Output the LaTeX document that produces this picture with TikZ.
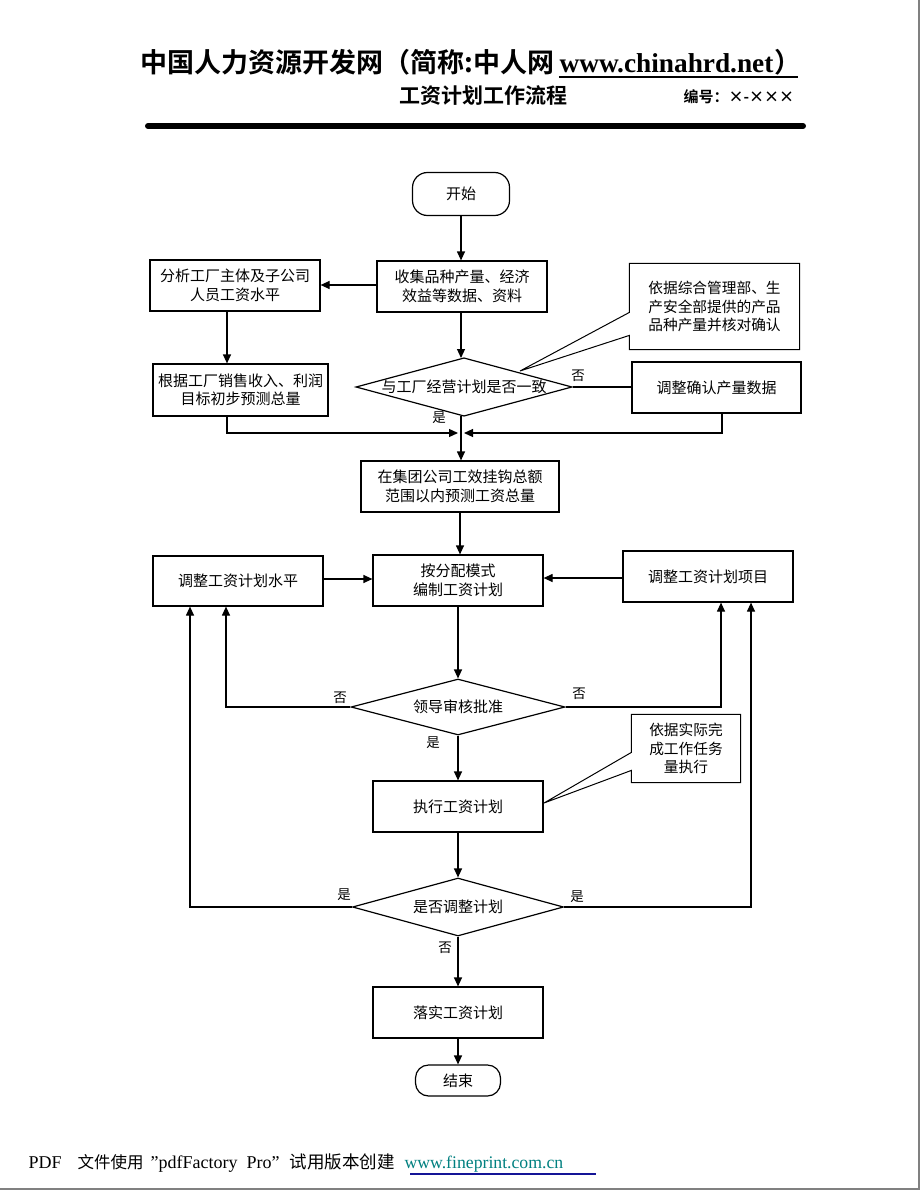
\documentclass[tikz,border=0pt]{standalone}
\usepackage{fontspec}
\setmainfont{Liberation Serif}
\newfontfamily\cjk{Noto Sans CJK SC}
\newfontfamily\cjkb{Noto Sans CJK SC Bold}
\usetikzlibrary{shapes.geometric,arrows.meta,calc}
\definecolor{linkteal}{RGB}{0,128,128}
\definecolor{linkblue}{RGB}{20,20,150}
\definecolor{framegray}{RGB}{128,128,128}
\begin{document}
\begin{tikzpicture}[x=1pt,y=-1pt,
  line width=1.2pt,
  every node/.style={font=\cjk\fontsize{15}{18.5}\selectfont, inner sep=0pt, align=center},
  box/.style={draw, rectangle, fill=white},
  dia/.style={draw, diamond, aspect=3.7, fill=white},
  term/.style={draw, rectangle, rounded corners=15pt, fill=white},
  lbl/.style={font=\cjk\fontsize{13.5}{16}\selectfont},
  arr/.style={-{Triangle[length=9pt,width=8pt]}},
  note/.style={font=\cjk\fontsize{14.7}{18.5}\selectfont}
]
\useasboundingbox (0,0) rectangle (920,1190);
\fill[white] (0,0) rectangle (920,1190);
% page frame
\draw[framegray, line width=2.5pt] (918.75,0) -- (918.75,1188.75) -- (0,1188.75);

% header
\node[anchor=base west, font=\cjkb\fontsize{27}{30}\selectfont] (t1) at (140,73) {中国人力资源开发网（简称:中人网};
\node[anchor=base west, font=\bfseries\fontsize{27.3}{30}\selectfont] (url) at ($(t1.base east)+(4,0)$) {www.chinahrd.net};
\node[anchor=base west, font=\cjkb\fontsize{27}{30}\selectfont] (t2) at (url.base east) {）};
\draw[line width=1.6pt] ($(url.base west)+(0,4)$) -- ($(t2.base east)+(-4,4)$);
\node[anchor=base, font=\cjkb\fontsize{21}{23}\selectfont] (sub) at (483,104) {工资计划工作流程};
\node[anchor=base west, font=\cjkb\fontsize{15}{17}\selectfont] (num) at (683,103) {编号：×-×××};
\coordinate (barL) at (148,126);
\coordinate (barR) at (803,126);
\draw[line width=6pt, line cap=round] (barL) -- (barR);

% nodes
\node[term, minimum width=97, minimum height=43] (start) at (461,194) {开始};
\node[box, minimum width=170, minimum height=51] (collect) at (462,286.5) {收集品种产量、经济\\效益等数据、资料};
\node[box, minimum width=170, minimum height=51] (analyze) at (235,285.5) {分析工厂主体及子公司\\人员工资水平};
\node[box, minimum width=175, minimum height=52] (fc) at (240.5,390) {根据工厂销售收入、利润\\目标初步预测总量};
\node[dia, minimum width=212, minimum height=58] (d1) at (464,387) {与工厂经营计划是否一致};
\node[box, minimum width=169, minimum height=51] (adj) at (716.5,387.5) {调整确认产量数据};
\node[note, minimum width=169, minimum height=85] (c1) at (714.5,306.5) {};
\node[box, minimum width=198, minimum height=51] (grp) at (460,486.5) {在集团公司工效挂钩总额\\范围以内预测工资总量};
\node[box, minimum width=170, minimum height=51] (plan) at (458,580.5) {按分配模式\\编制工资计划};
\node[box, minimum width=170, minimum height=50] (adjL) at (238,581) {调整工资计划水平};
\node[box, minimum width=170, minimum height=51] (adjR) at (708,576.5) {调整工资计划项目};
\node[dia, minimum width=214, minimum height=56] (d2) at (458,707) {领导审核批准};
\node[box, minimum width=170, minimum height=51] (exec) at (458,806.5) {执行工资计划};
\node[note, minimum width=108, minimum height=67] (c2) at (686,748.5) {};
\node[dia, minimum width=211, minimum height=58] (d3) at (458,907) {是否调整计划};
\node[box, minimum width=170, minimum height=51] (impl) at (458,1012.5) {落实工资计划};
\node[term, minimum width=85, minimum height=31, rounded corners=13pt] (end) at (458,1080.5) {结束};

% callout 1
\coordinate (tip1) at (520,371);
\draw[fill=white, line width=1pt] (c1.north west) -- (c1.north east) -- (c1.south east) -- (c1.south west)
  -- ($(c1.north west)+(0,72)$) -- (tip1) -- ($(c1.north west)+(0,49)$) -- cycle;
\node[note] at (c1) {依据综合管理部、生\\产安全部提供的产品\\品种产量并核对确认};
% callout 2
\coordinate (tip2) at (544,803);
\draw[fill=white, line width=1pt] (c2.north west) -- (c2.north east) -- (c2.south east) -- (c2.south west)
  -- ($(c2.north west)+(0,56)$) -- (tip2) -- ($(c2.north west)+(0,38)$) -- cycle;
\node[note] at (c2) {依据实际完\\成工作任务\\量执行};

% connectors
\coordinate (m) at (461,433);
\draw[arr] (start.south) -- (start.south |- collect.north);
\draw[arr] (collect.west |- 0,285) -- (analyze.east |- 0,285);
\draw[arr] ([xshift=-8]analyze.south) -- ([xshift=-8]analyze.south |- fc.north);
\draw[arr] (collect.south -| 461,0) -- (461,358);
\draw (d1.east) -- (d1.east -| adj.west);
\draw[arr] ([xshift=-13.5]fc.south) |- ([xshift=-3]m);
\draw[arr] ([xshift=5.5]adj.south) |- ([xshift=3]m);
\draw[arr] (461,416) -- (grp.north -| 461,0);
\draw[arr] (grp.south -| 460,0) -- (plan.north -| 460,0);
\draw[arr] (adjL.east |- 0,579) -- (plan.west |- 0,579);
\draw[arr] (adjR.west |- 0,578) -- (plan.east |- 0,578);
\draw[arr] (plan.south) -- (d2.north);
\draw[arr] (d2.west) -| ([xshift=-12]adjL.south);
\draw[arr] (d2.east) -| ([xshift=13]adjR.south);
\draw[arr] (d2.south) -- (exec.north);
\draw[arr] (exec.south) -- (d3.north);
\draw[arr] (d3.west) -| ([xshift=-48]adjL.south);
\draw[arr] (d3.east) -| ([xshift=43]adjR.south);
\draw[arr] (d3.south) -- (impl.north);
\draw[arr] (impl.south) -- (end.north);

% branch labels
\node[lbl] at (578,376) {否};
\node[lbl] at (439,418) {是};
\node[lbl] at (340,698) {否};
\node[lbl] at (579,694) {否};
\node[lbl] at (433,743) {是};
\node[lbl] at (344,895) {是};
\node[lbl] at (577,897) {是};
\node[lbl] at (445,948) {否};

% footer
\node[anchor=base west, font=\fontsize{18}{20}\selectfont] (f1) at (28,1168) {PDF};
\node[anchor=base west, font=\cjk\fontsize{16.5}{18}\selectfont] (f2) at (77,1168) {文件使用};
\node[anchor=base west, font=\fontsize{18}{20}\selectfont] (f3) at (150,1168) {\char"22 pdfFactory\ \ Pro\char"22};
\node[anchor=base west, font=\cjk\fontsize{17.5}{18}\selectfont] (f4) at (289,1168) {试用版本创建};
\node[anchor=base west, font=\fontsize{17.7}{20}\selectfont, text=linkteal] (f5) at (404,1168) {www.fineprint.com.cn};
\draw[linkblue, line width=1.3pt] (410,1174) -- (596,1174);
\end{tikzpicture}
\end{document}
